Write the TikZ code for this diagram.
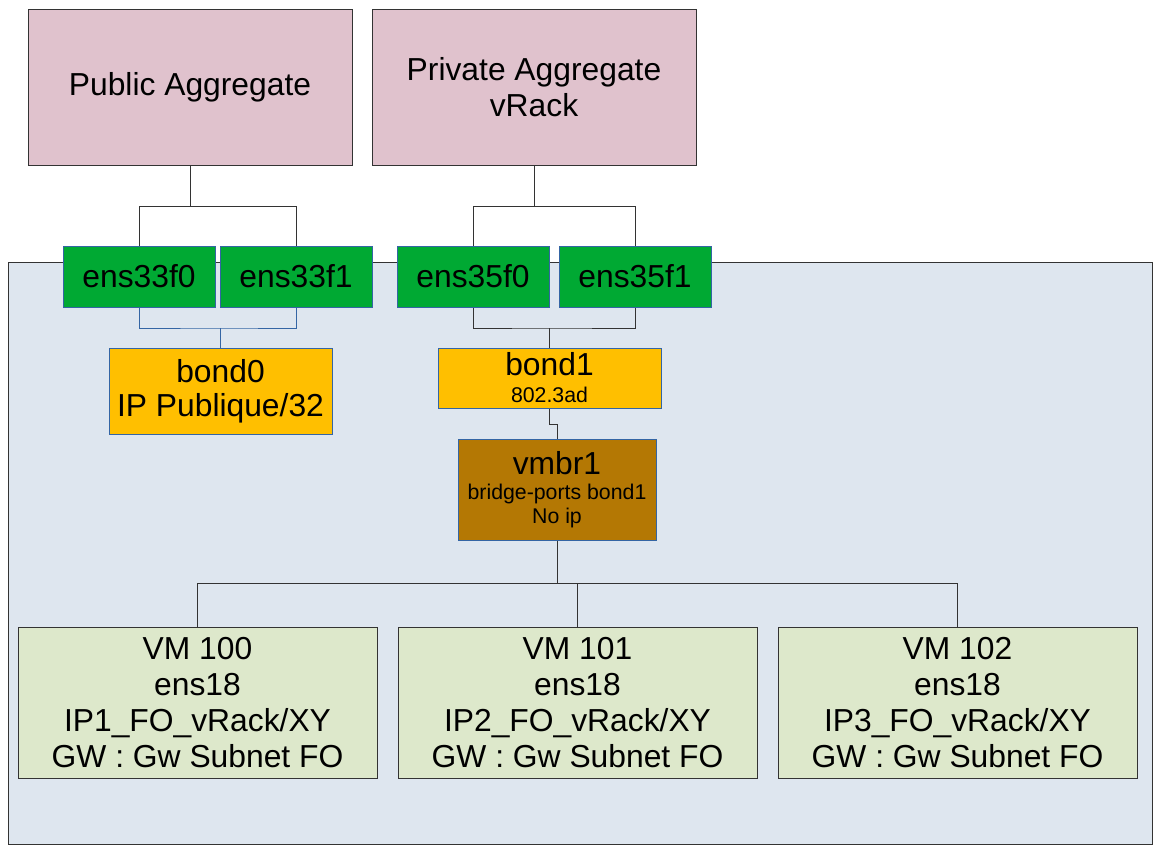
\documentclass[tikz,border=0pt]{standalone}
\usepackage{fontspec}
\setmainfont{Liberation Sans}
\usetikzlibrary{positioning}

\definecolor{aggPink}{HTML}{E0C2CD}
\definecolor{nicGreen}{HTML}{00A933}
\definecolor{bondGold}{HTML}{FFBF00}
\definecolor{bridgeBrown}{HTML}{B47804}
\definecolor{hostBlue}{HTML}{DEE6EF}
\definecolor{vmGreen}{HTML}{DDE8CB}
\definecolor{edgeBlue}{HTML}{3465A4}
\definecolor{edgeGray}{HTML}{333333}

\newcommand{\bigTxt}{\fontsize{31.8}{36}\selectfont}
\newcommand{\smallTxt}{\fontsize{21.3}{24}\selectfont}

\tikzset{
  baseBox/.style={draw=edgeGray, line width=1pt, inner sep=0pt, align=center, font=\bigTxt},
  aggBox/.style={baseBox, fill=aggPink, minimum width=324pt, minimum height=156pt},
  nicBox/.style={baseBox, draw=edgeBlue, fill=nicGreen, minimum width=152pt, minimum height=61pt},
  bondBox/.style={baseBox, draw=edgeBlue, fill=bondGold, minimum width=223pt},
  bridgeBox/.style={baseBox, draw=edgeBlue, fill=bridgeBrown, minimum width=198pt, minimum height=101pt},
  vmBox/.style={baseBox, fill=vmGreen, minimum width=359pt, minimum height=151pt},
  link/.style={draw=edgeGray, line width=1pt},
}

\begin{document}
\begin{tikzpicture}[x=1pt, y=-1pt]
    \useasboundingbox (0,0) rectangle (1163,852);
    % serveur
    \draw[draw=edgeGray, fill=hostBlue, line width=1pt] (8,262) rectangle (1152,844);

    \node[aggBox] (pubAgg) at (190,87) {\raisebox{-3pt}{Public Aggregate}};
    \node[aggBox] (privAgg) at (534,87) {Private Aggregate\\vRack};

    \node[nicBox] (ens33f0) at (139,276.5) {ens33f0};
    \node[nicBox] (ens33f1) at (296,276.5) {ens33f1};
    \node[nicBox] (ens35f0) at (473,276.5) {ens35f0};
    \node[nicBox] (ens35f1) at (635,276.5) {ens35f1};

    \node[bondBox, minimum height=86pt] (bond0) at (220.5,391) {\raisebox{-2pt}{bond0}\\IP Publique/32};
    \node[bondBox, minimum height=60pt] (bond1) at (549.5,378) {\raisebox{-2pt}{bond1}\\[-7pt]{\smallTxt 802.3ad}};
    \node[bridgeBox] (vmbr1) at (557,489.5) {\raisebox{-4pt}{vmbr1}\\[-11pt]{\smallTxt \raisebox{-4pt}{bridge-ports bond1}}\\[-12pt]{\smallTxt \raisebox{-4pt}{No ip}}};

    \foreach \vm/\px/\n in {vm100/197.5/1, vm101/577.5/2, vm102/957.5/3}
    {
        \node[vmBox] (\vm) at (\px,702.5) {VM 10\the\numexpr\n-1\relax\\ens18\\IP\n\_FO\_vRack/XY\\GW : Gw Subnet FO};
    }

    % liens
    \coordinate (pubSplit) at (190,206);
    \coordinate (privSplit) at (534,206);
    \coordinate (bond0Join) at (220.5,328);
    \coordinate (bond1Join) at (549.5,328);
    \coordinate (bondJog) at (549.5,424);
    \coordinate (vmSplit) at (557,583);

    \draw[link] (pubAgg.south) -- (pubSplit) -| (ens33f0.north)
                (pubSplit) -| (ens33f1.north);
    \draw[link] (privAgg.south) -- (privSplit) -| (ens35f0.north)
                (privSplit) -| (ens35f1.north);
    \draw[link, draw=edgeBlue] (ens33f0.south) |- (bond0Join) -| (ens33f1.south)
                (bond0Join) -- (bond0.north);
    \draw[link] (ens35f0.south) |- (bond1Join) -| (ens35f1.south)
                (bond1Join) -- (bond1.north);
    \draw[link] (bond1.south) -- (bondJog) -| (vmbr1.north);
    \draw[link] (vmbr1.south) -- (vmSplit);
    \foreach \vm in {vm100, vm101, vm102}
    {
        \draw[link] (vmSplit) -| (\vm.north);
    }
\end{tikzpicture}
\end{document}
